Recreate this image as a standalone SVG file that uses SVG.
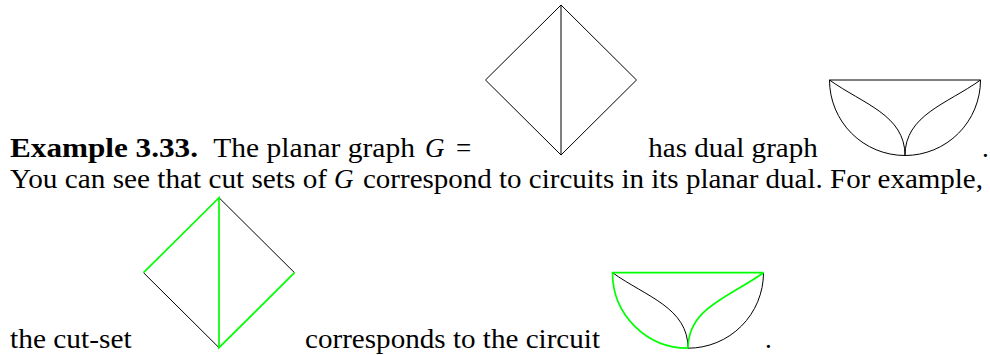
<svg xmlns="http://www.w3.org/2000/svg" width="990" height="355" viewBox="0 0 990 355">
<style>
text{font-family:"Liberation Serif","Times New Roman",serif;font-size:27px;fill:#000}
.b{font-weight:bold}
.i{font-style:italic}
.k{fill:none;stroke:#000;stroke-width:1}
.g{fill:none;stroke:#00ff00;stroke-width:1.7}
</style>
<rect width="990" height="355" fill="#fff"/>
<g id="text">
<text x="10" y="156.7" class="b" textLength="188" lengthAdjust="spacingAndGlyphs">Example 3.33.</text>
<text x="213.3" y="156.7" textLength="201.7" lengthAdjust="spacingAndGlyphs">The planar graph</text>
<text x="425" y="156.7" class="i">G</text>
<text x="456" y="156.7">=</text>
<text x="648.3" y="156.7" textLength="169.5" lengthAdjust="spacingAndGlyphs">has dual graph</text>
<text x="982" y="156.7">.</text>
<text x="10" y="187.7" textLength="317" lengthAdjust="spacingAndGlyphs">You can see that cut sets of</text>
<text x="334" y="187.7" class="i">G</text>
<text x="363" y="187.7" textLength="620" lengthAdjust="spacingAndGlyphs">correspond to circuits in its planar dual. For example,</text>
<text x="10" y="348.3" textLength="121.7" lengthAdjust="spacingAndGlyphs">the cut-set</text>
<text x="305" y="348.3" textLength="295" lengthAdjust="spacingAndGlyphs">corresponds to the circuit</text>
<text x="765" y="348.3">.</text>
</g>
<g id="graph-G">
<path class="k" d="M561,5 L485.5,80 L561,155 L636.5,80 Z M561,5 L561,155"/>
</g>
<g id="dual-graph">
<path class="k" d="M829.5,80 L980.5,80 M829.5,80 A75.5,75.5 0 0 0 980.5,80 M829.5,80 C863,104 905,115 905,155.5 M980.5,80 C947,104 905,115 905,155.5"/>
</g>
<g id="cut-set" transform="translate(-342,192.7)">
<path class="k" d="M561,5 L636.5,80 M485.5,80 L561,155"/>
<path class="g" d="M485.5,80 L561,5 L561,155 L636.5,80"/>
</g>
<g id="circuit" transform="translate(-217,192.7)">
<path class="k" d="M905,155.5 A75.5,75.5 0 0 0 980.5,80 M829.5,80 C863,104 905,115 905,155.5"/>
<path class="g" d="M980.5,80 L829.5,80 A75.5,75.5 0 0 0 905,155.5 M980.5,80 C947,104 905,115 905,155.5"/>
</g>
</svg>
